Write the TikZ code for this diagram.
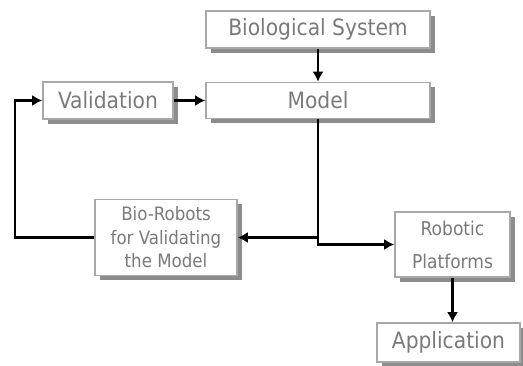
\documentclass[tikz,border=0pt]{standalone}
\usepackage{fontspec}
\setmainfont{DejaVu Sans Condensed}
\usetikzlibrary{arrows.meta,shadows}
\definecolor{txtgray}{HTML}{7A7A7A}
\definecolor{boxline}{HTML}{A8A8A8}
\definecolor{shadowgray}{HTML}{8C8C8C}
\tikzset{
  box/.style={draw=boxline, line width=1.6pt, fill=white, text=txtgray,
    inner sep=0pt, align=center,
    drop shadow={shadow xshift=4.5pt, shadow yshift=-4.5pt, fill=shadowgray, opacity=1}},
  bigtxt/.style={font=\fontsize{22.5}{26}\selectfont},
  smalltxt/.style={font=\fontsize{18.5}{23.5}\selectfont},
  conn/.style={line width=2.6pt, draw=black},
  arr/.style={conn, -{Latex[length=10pt,width=11pt]}}
}
\begin{document}
\begin{tikzpicture}[x=1pt,y=1pt]
\useasboundingbox[fill=white] (0,0) rectangle (523,-365);
\node[box,bigtxt,minimum width=224pt,minimum height=37pt] (bio) at (318,-29.5) {Biological System};
\node[box,bigtxt,minimum width=224pt,minimum height=36pt] (model) at (318,-100.5) {Model};
\node[box,bigtxt,minimum width=130pt,minimum height=37pt] (val) at (108,-100.5) {Validation};
\node[box,smalltxt,minimum width=142pt,minimum height=76pt] (biorob) at (166,-237.5) {Bio-Robots\\for Validating\\the Model};
\node[box,minimum width=115pt,minimum height=65pt,font=\fontsize{19}{33}\selectfont] (robots) at (452.5,-244.5) {Robotic\\Platforms};
\node[box,bigtxt,minimum width=143pt,minimum height=39pt] (app) at (448.5,-342.5) {Application};
\coordinate (c1) at (15,-237.5);
\draw[arr] (bio) -- (model);
\draw[arr] (val) -- (model);
\draw[arr] (model) |- (biorob);
\draw[arr] (model) |- (robots);
\draw[arr] (biorob) -- (c1) |- (val);
\draw[arr] (robots.south) -- (robots.south |- app.north);
\end{tikzpicture}
\end{document}
